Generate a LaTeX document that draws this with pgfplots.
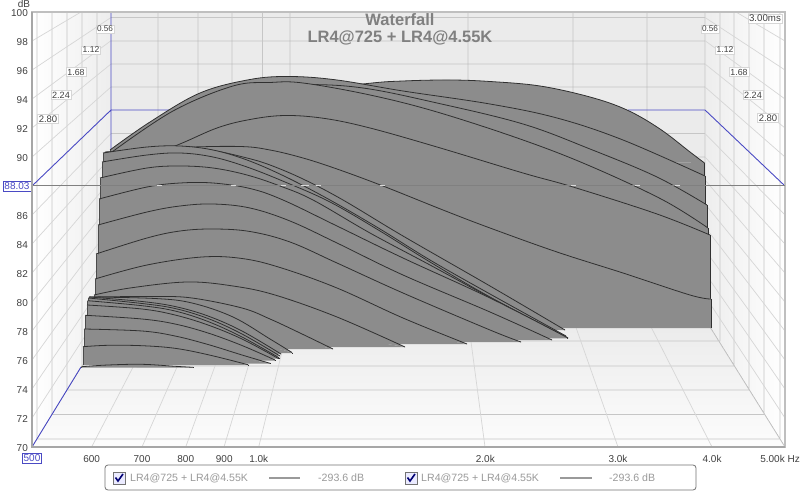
\documentclass[border=0pt]{standalone}
\usepackage{fontspec}
\setmainfont{Liberation Sans}
\usepackage{pgfplots}
\pgfplotsset{compat=1.18}

\definecolor{wf}{HTML}{8C8C8C}
\definecolor{edge}{HTML}{303030}
\definecolor{gridc}{HTML}{C6C6C6}
\definecolor{gridl}{HTML}{D6D6D6}
\definecolor{cursor}{HTML}{4A4AC4}
\definecolor{frame}{HTML}{A6A6A6}
\definecolor{lab}{HTML}{404040}
\definecolor{leg}{HTML}{9A9A9A}

% one waterfall slice in screen units: x0, y0, x1, y1, floor, points between
\newcommand{\slice}[6]{%
  \addplot[fill=wf,draw=none] coordinates {(#1,#5) (#1,#2) (#3,#4) (#3,#5)};
  \addplot[fill=wf,draw=none,smooth,tension=.6] coordinates {(#1,#2) #6 (#3,#4)};
  \addplot[edge,line width=.8pt,smooth,tension=.6] coordinates {(#1,#2) #6 (#3,#4)};
  \addplot[edge!70!wf,line width=.5pt] coordinates {(#1,#5) (#1,#2)};
  \addplot[edge,line width=.7pt] coordinates {(#3,#4) (#3,#5)};
}
\newcommand{\tbox}[3]{\node[font=\fontsize{#3}{#3}\selectfont,text=lab,fill=white,draw=gridl,inner sep=1.3pt] at (#1) {#2};}

\begin{document}
\begin{tikzpicture}
\useasboundingbox (-32pt,-45pt) rectangle (768pt,447pt);

% perspective scene, in screen units of the 800x492 picture
\begin{axis}[
  at={(368pt,201pt)}, anchor=center,
  scale only axis, width=800pt, height=492pt,
  xmin=0, xmax=800, ymin=0, ymax=492, y dir=reverse,
  hide axis, unbounded coords=jump, cycle list={{black}},
]
\fill[fill=white] (0,0) rectangle (800,492);
\fill[left color=white,right color=black!7] (32,12) -- (111,12) -- (111,319) -- (32,447) -- cycle;
\fill[left color=black!7,right color=white] (705,12) -- (785,12) -- (785,447) -- (705,319) -- cycle;
\fill[fill=black!8] (111,12) rectangle (705,319);
\fill[top color=black!8,bottom color=black!1] (111,319) -- (705,319) -- (785,447) -- (32,447) -- cycle;
\fill[white] (112,12) rectangle (128,13.5);
\fill[white] (687,12) rectangle (704,13.5);

% walls and floor
\addplot[gridc,line width=.8pt] table[row sep=\\] {
x y\\
111 17.5\\ 705 17.5\\ nan nan\\ 111 41\\ 705 41\\ nan nan\\ 111 64\\ 705 64\\ nan nan\\
111 87\\ 705 87\\ nan nan\\ 111 133.5\\ 705 133.5\\ nan nan\\ 111 157\\ 705 157\\ nan nan\\
111 180\\ 705 180\\ nan nan\\ 111 204\\ 705 204\\ nan nan\\ 111 227\\ 705 227\\ nan nan\\
705 12\\ 705 319\\ nan nan\\
158 12\\ 158 319\\ nan nan\\ 198 12\\ 198 319\\ nan nan\\ 232 12\\ 232 319\\ nan nan\\
262.5 12\\ 262.5 319\\ nan nan\\ 290 12\\ 290 319\\ nan nan\\ 468 12\\ 468 319\\ nan nan\\
573 12\\ 573 319\\ nan nan\\ 647 12\\ 647 319\\ nan nan\\
37 12\\ 37 439\\ nan nan\\ 52 12\\ 52 414.5\\ nan nan\\ 67 12\\ 67 390\\ nan nan\\
82 12\\ 82 366\\ nan nan\\ 97 12\\ 97 341\\ nan nan\\
780 12\\ 780 439\\ nan nan\\ 764 12\\ 764 414.5\\ nan nan\\ 749 12\\ 749 390\\ nan nan\\
734 12\\ 734 366\\ nan nan\\ 720 12\\ 720 341\\ nan nan\\
37 439\\ 780 439\\ nan nan\\ 52 414.5\\ 764 414.5\\ nan nan\\ 67 390\\ 749 390\\ nan nan\\
82 366\\ 734 366\\ nan nan\\ 97 341\\ 720 341\\ nan nan\\
785 447\\ 705 319\\ nan nan\\
};
\addplot[gridl,line width=.7pt] table[row sep=\\] {
x y\\
32 41\\ 81 12\\ nan nan\\ 32 70\\ 111 17.5\\ nan nan\\ 32 99\\ 111 40.7\\ nan nan\\
32 128\\ 111 64\\ nan nan\\ 32 157\\ 111 87\\ nan nan\\ 32 215\\ 111 133.5\\ nan nan\\
32 244\\ 111 157\\ nan nan\\ 32 273\\ 111 180\\ nan nan\\ 32 302\\ 111 204\\ nan nan\\
32 331\\ 111 227\\ nan nan\\ 32 360\\ 111 250\\ nan nan\\ 32 389\\ 111 273\\ nan nan\\
32 418\\ 111 296\\ nan nan\\
785 41\\ 736 12\\ nan nan\\ 785 70\\ 705 17.5\\ nan nan\\ 785 99\\ 705 40.7\\ nan nan\\
785 128\\ 705 64\\ nan nan\\ 785 157\\ 705 87\\ nan nan\\ 785 215\\ 705 133.5\\ nan nan\\
785 244\\ 705 157\\ nan nan\\ 785 273\\ 705 180\\ nan nan\\ 785 302\\ 705 204\\ nan nan\\
785 331\\ 705 227\\ nan nan\\ 785 360\\ 705 250\\ nan nan\\ 785 389\\ 705 273\\ nan nan\\
785 418\\ 705 296\\ nan nan\\
91.6 447\\ 158 319\\ nan nan\\ 142 447\\ 198 319\\ nan nan\\ 185.7 447\\ 232 319\\ nan nan\\
224 447\\ 262.5 319\\ nan nan\\ 258.7 447\\ 290 319\\ nan nan\\ 485 447\\ 468 319\\ nan nan\\
618 447\\ 573 319\\ nan nan\\ 712 447\\ 647 319\\ nan nan\\
};
\addplot[cursor,line width=.9pt] table[row sep=\\] {
x y\\
111 12\\ 111 152\\ nan nan\\ 32 186\\ 111 110\\ 175 110\\ nan nan\\
628 110\\ 705 110\\ 785 186\\ nan nan\\ 32 447\\ 81 367\\ nan nan\\
};

% slices, back to front
\slice{111}{152}{704.5}{163}{319}{(250,98) (363,84) (403,81) (450,80) (490,81.5) (540,86) (590,97) (627,110) (660,129) (690,152)}
\slice{110}{150}{705}{176}{320}{(150,122) (200,93) (250,79.5) (290,76.5) (337,80) (403,91) (490,104) (557,118) (623,140)}
\slice{112}{153}{707}{205}{322}{(173,112) (233,87.5) (303,84.5) (363,88) (437,103) (523,124) (590,149) (657,177)}
\slice{112}{152}{708}{228}{323}{(173,111) (233,86) (270,82.5) (303,83) (370,95) (437,112) (523,140) (590,166) (663,200)}
\slice{106}{172}{710}{235}{325}{(175,146) (217,128) (250,119.5) (285,115.5) (325,118.5) (370,128) (437,147) (523,173) (573,187) (657,214)}
\slice{105}{152}{711}{299}{328}{(180,147.5) (240,146.5) (270,150) (303,158) (337,169) (383,186) (443,210) (490,228) (557,252) (623,273) (690,295)}
\slice{104}{153}{565}{330}{330}{(180,148) (213,150.5) (247,158) (270,165) (303,179) (343,200) (403,236) (490,286)}
\slice{103}{153}{566}{336}{336}{(147,147) (180,146) (213,150) (247,160) (285,176.5) (330,200) (380,229) (430,260) (490,294)}
\slice{102}{162}{568}{338}{338}{(147,155) (180,153) (213,157) (247,167) (285,182) (330,202) (380,231) (430,262) (490,297)}
\slice{100}{178}{567}{337.5}{338}{(147,168) (180,166) (213,168) (247,175) (280,186) (313,200) (370,233) (430,265) (490,297.5)}
\slice{99}{199}{568}{338}{338}{(147,187) (180,183) (213,183) (250,188.5) (283,200) (337,226) (403,258) (490,298)}
\slice{98}{225}{552}{340}{340}{(147,212) (180,206) (213,204) (250,208) (290,221) (337,243) (403,275) (490,312)}
\slice{96}{254}{521}{342}{342}{(147,238) (180,231) (213,229) (250,231.5) (290,242) (337,263) (403,293) (490,330)}
\slice{95}{279}{467}{344}{344}{(147,265) (202,257) (242,258.5) (280,267.5) (337,288) (403,318)}
\slice{94}{295}{405}{347}{347}{(130,288) (187,282) (233,286) (275,295) (337,317)}
\slice{90}{297}{333}{349}{349}{(155,296.5) (192,298) (242,308) (270,319) (300,333)}
\slice{89}{297}{292}{352.5}{353}{(155,298.5) (192,303) (233,317) (270,339)}
\slice{89}{297}{281}{354}{354}{(142,301.5) (175,306.5) (208,316) (242,331)}
\slice{88.3}{298}{280}{356}{356}{(142,303.5) (175,308.5) (208,318.5) (242,334)}
\slice{87.7}{300.7}{279}{357.7}{358}{(142,305.7) (175,311) (208,321.5) (242,337)}
\slice{87}{305}{278}{358.3}{358.5}{(142,309) (175,315) (208,325) (242,339)}
\slice{85.3}{315.3}{275}{360}{360.5}{(142,319) (175,324) (208,333) (242,345.5)}
\slice{84}{329}{270}{363.3}{363.5}{(142,331) (175,336) (208,344.5) (242,355)}
\slice{83}{346.7}{248}{364.7}{365}{(108,345.3) (142,345.7) (175,348.3) (208,354.7)}
\slice{81.7}{366.7}{193}{367.3}{367.5}{(108,365) (142,364.3) (175,366.3)}

% texts in the plot
\node[font=\bfseries\fontsize{16.5}{16.5}\selectfont,text=black!50] at (400,20) {Waterfall};
\node[font=\bfseries\fontsize{16.5}{16.5}\selectfont,text=black!50] at (400,37.5) {LR4@725 + LR4@4.55K};
\tbox{105,29}{0.56}{8.2}
\tbox{91,50}{1.12}{8.5}
\tbox{76,72}{1.68}{8.8}
\tbox{61,95}{2.24}{9.1}
\tbox{48,119}{2.80}{9.5}
\tbox{710,29}{0.56}{8.2}
\tbox{725,50}{1.12}{8.5}
\tbox{739,72}{1.68}{8.8}
\tbox{753,95}{2.24}{9.1}
\tbox{768,118}{2.80}{9.5}
\tbox{765,18.5}{3.00ms}{9.7}
\node[font=\fontsize{10}{10}\selectfont,text=lab,inner sep=0pt] at (24,3.5) {dB};
\node[font=\fontsize{10}{10}\selectfont,text=lab,inner sep=0pt,anchor=east] at (800,458.5) {5.00k Hz};
\node[font=\fontsize{10}{10}\selectfont,text=cursor,fill=white,draw=cursor,inner sep=1.2pt] at (17,186) {88.03};
\node[font=\fontsize{10}{10}\selectfont,text=cursor,fill=white,draw=cursor,inner sep=1.2pt] at (32,458) {500};

% legend box
\draw[black!55,line width=.8pt,rounded corners=3pt] (105,465) rectangle (696,490);
\draw[black!55,fill=blue!8,line width=.7pt] (113,472) rectangle (125,484);
\draw[blue!45!black,line width=1.6pt] (115.5,477.5) -- (118,481) -- (123,474);
\draw[black!55,fill=blue!8,line width=.7pt] (405,472) rectangle (417,484);
\draw[blue!45!black,line width=1.6pt] (407.5,477.5) -- (410,481) -- (415,474);
\node[font=\fontsize{10.6}{10.6}\selectfont,text=leg,inner sep=0pt,anchor=west] at (130,478) {LR4@725 + LR4@4.55K};
\node[font=\fontsize{10.6}{10.6}\selectfont,text=leg,inner sep=0pt,anchor=west] at (421,478) {LR4@725 + LR4@4.55K};
\node[font=\fontsize{10.6}{10.6}\selectfont,text=leg,inner sep=0pt,anchor=west] at (318,478) {-293.6 dB};
\node[font=\fontsize{10.6}{10.6}\selectfont,text=leg,inner sep=0pt,anchor=west] at (609,478) {-293.6 dB};
\draw[leg,line width=1.5pt] (269,478) -- (300,478);
\draw[leg,line width=1.5pt] (560,478) -- (592,478);
\end{axis}

% the real scale: log frequency against dB, with the 88.03 dB cursor
\begin{axis}[
  scale only axis, width=753pt, height=435pt,
  xmode=log, xmin=500, xmax=5000, ymin=70, ymax=100,
  xtick={600,700,800,900,1000,2000,3000,4000},
  xticklabels={600,700,800,900,1.0k,2.0k,3.0k,4.0k},
  minor xtick={}, log ticks with fixed point,
  ytick={70,72,...,86,90,92,...,100},
  major tick length=0pt, minor tick length=0pt,
  /pgf/number format/assume math mode=true,
  tick label style={font=\fontsize{10}{10}\selectfont,text=lab,inner sep=0pt},
  xticklabel style={anchor=north,yshift=-8pt},
  yticklabel style={anchor=east,xshift=-4pt,yshift=-1pt},
  axis line style={draw=black!25,line width=1.6pt},
  clip=false,
]
\addplot[black!50,line width=1.2pt] coordinates {(500,88.03) (5000,88.03)};
\addplot[only marks,mark=-,mark size=2.5pt,mark options={draw=black!15,line width=.9pt}] coordinates {
  (739.5,88.03) (927,88.03) (1080,88.03) (1148,88.03) (1159,88.03) (1200,88.03)
  (1462,88.03) (2616,88.03) (3189,88.03) (3604,88.03)};
\draw[frame,line width=2.2pt] (rel axis cs:0,1) -- (rel axis cs:0,0) -- (rel axis cs:1,0);
\end{axis}
\end{tikzpicture}
\end{document}
